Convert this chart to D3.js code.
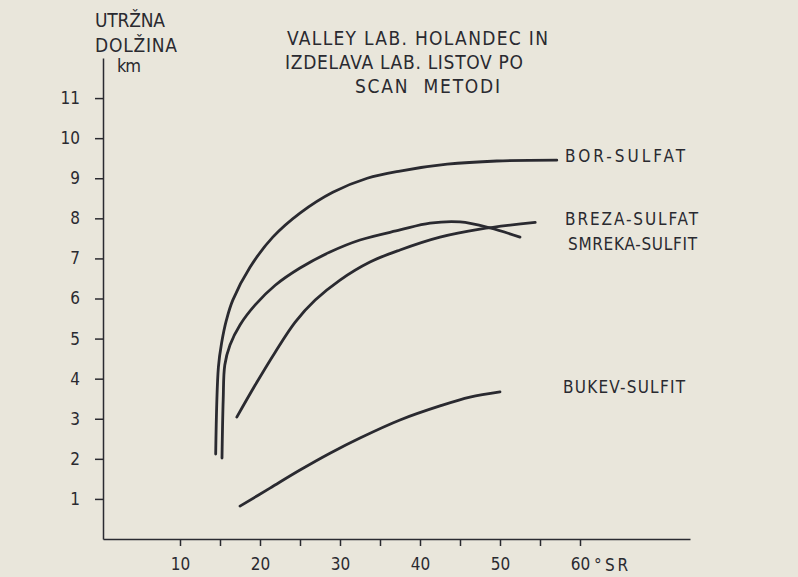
<!DOCTYPE html>
<html>
<head>
<meta charset="utf-8">
<script src="https://cdn.jsdelivr.net/npm/d3@7"></script>
<style>
  body { margin: 0; background: #e8e6dc; }
  svg { display: block; }
</style>
</head>
<body>
<div id="chart"></div>
<script>
// curves: [°SR, tearing length km]
var borSulfat = [[14.46, 2.12], [14.8, 4.29], [15.2, 4.89], [15.8, 5.46], [16.6, 5.96], [18.75, 6.78],
    [21.6, 7.53], [25, 8.13], [29.1, 8.65], [33.4, 9.0], [37.5, 9.18], [43.4, 9.35], [49.6, 9.43], [57.1, 9.45]];
var brezaSulfat = [[17.1, 3.04], [19.4, 3.84], [21.9, 4.66], [24.4, 5.41], [26.9, 5.96], [30, 6.46],
    [33.75, 6.91], [37.5, 7.21], [42.5, 7.53], [47.5, 7.73], [54.4, 7.9]];
var smrekaSulfit = [[15.25, 2.02], [15.4, 3.47], [15.6, 4.34], [16.25, 4.84], [17.5, 5.34], [19.4, 5.84],
    [21.9, 6.33], [25, 6.76], [28.75, 7.16], [32.5, 7.46], [37.5, 7.71], [41.25, 7.88], [45, 7.91],
    [48.75, 7.76], [52.5, 7.53]];
var bukevSulfit = [[17.5, 0.82], [21.25, 1.27], [25, 1.72], [28.75, 2.14], [32.5, 2.52], [37.5, 2.97],
    [42.5, 3.32], [46.25, 3.54], [50, 3.67]];

var seriesNames = ["BOR-SULFAT", "BREZA-SULFAT", "SMREKA-SULFIT", "BUKEV-SULFIT"];
var yTicks = [1, 2, 3, 4, 5, 6, 7, 8, 9, 10, 11];
var xTicks = [10, 15, 20, 25, 30, 35, 40, 45, 50, 55, 60];

var width = 798, height = 577;
var ink = "#2a2a30";
var font = "'DejaVu Sans Condensed', 'Liberation Sans', sans-serif";

var svg = d3.select("#chart")
    .append("svg")
    .attr("width", width)
    .attr("height", height);

svg.append("rect")
    .attr("width", width)
    .attr("height", height)
    .attr("fill", "#e9e6db");

var x = d3.scaleLinear()
    .domain([0.375, 73.75])
    .range([103, 690]);

var y = d3.scaleLinear()
    .domain([0, 12.0])
    .range([539, 58]);

// X axis
var gx = svg.append("g")
    .attr("transform", "translate(0," + y(0) + ")")
    .call(d3.axisBottom(x)
        .tickValues(xTicks)
        .tickSize(7)
        .tickSizeOuter(0)
        .tickPadding(12)
        .tickFormat(function (d) { return d % 10 === 0 ? d : ""; }));

// Y axis
var gy = svg.append("g")
    .attr("transform", "translate(" + x(0.375) + ",0)")
    .call(d3.axisLeft(y)
        .tickValues(yTicks)
        .tickSize(8)
        .tickSizeOuter(0)
        .tickPadding(15));

[gx, gy].forEach(function (g) {
    g.attr("color", ink)
        .attr("font-family", font)
        .attr("font-size", 17);
    g.selectAll("path, line").attr("stroke-width", 1.5);
});

// curves
var line = d3.line()
    .x(function (d) { return x(d[0]); })
    .y(function (d) { return y(d[1]); })
    .curve(d3.curveCatmullRom.alpha(0.5));

svg.append("g")
    .selectAll("path")
    .data([borSulfat, brezaSulfat, smrekaSulfit, bukevSulfit])
    .enter()
    .append("path")
    .attr("d", line)
    .attr("fill", "none")
    .attr("stroke", ink)
    .attr("stroke-width", 2.8)
    .attr("stroke-linecap", "round");

// text helper: spreads a string between x0 and x1
function word(str, x0, x1, base, size) {
    svg.append("text")
        .attr("x", x0)
        .attr("y", base)
        .attr("textLength", x1 - x0)
        .attr("lengthAdjust", "spacing")
        .attr("font-family", font)
        .attr("font-size", size)
        .attr("fill", ink)
        .style("white-space", "pre")
        .text(str);
}

// series labels
word(seriesNames[0], 565, 685, 162, 17);
word(seriesNames[1], 565, 698, 225, 17);
word(seriesNames[2], 568, 697, 250, 17);
word(seriesNames[3], 563, 685, 393, 17);

// y title
word("UTRŽNA", 95, 165, 27, 19);
word("DOLŽINA", 95, 177, 52, 19);
word("km", 117, 141, 72, 18);

// x unit
word("°", 594, 601, 571, 17);
word("SR", 605, 628, 571, 17);

// title
word("VALLEY LAB. HOLANDEC IN", 287, 548, 45, 19);
word("IZDELAVA LAB. LISTOV PO", 285, 523, 69, 19);
word("SCAN  METODI", 355, 500, 93, 19);
</script>
</body>
</html>
